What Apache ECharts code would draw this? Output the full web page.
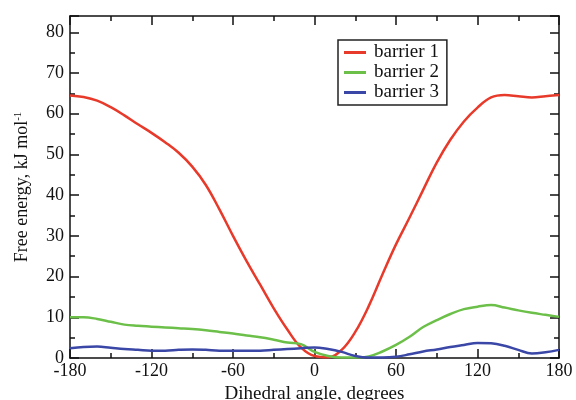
<!DOCTYPE html>
<html>
<head>
<meta charset="utf-8">
<script src="https://cdn.jsdelivr.net/npm/echarts@6/dist/echarts.min.js"></script>
<style>
  html, body { margin: 0; padding: 0; background: #fff; }
  #main { width: 576px; height: 400px; }
</style>
</head>
<body>
<div id="main"></div>
<script>
// angles (degrees), shared by all three curves
let angles = [-180, -170, -160, -150, -140, -130, -120, -110, -100, -90, -80, -70, -60, -50, -40, -30, -20, -10,
    0, 10, 20, 30, 40, 50, 60, 70, 80, 90, 100, 110, 120, 130, 140, 150, 160, 170, 180]

let barrier1 = [64.5, 64.1, 63.2, 61.6, 59.6, 57.4, 55.3, 53.0, 50.4, 47.0, 42.5, 36.5, 30.0, 23.8, 18.0, 12.2, 7.0, 2.6,
    0.5, 0.2, 2.0, 6.4, 12.8, 20.5, 27.9, 34.5, 41.3, 48.0, 53.6, 58.1, 61.5, 64.0, 64.6, 64.3, 64.0, 64.3, 64.6]

let barrier2 = [10.0, 10.0, 9.6, 8.9, 8.2, 7.9, 7.7, 7.5, 7.3, 7.1, 6.8, 6.4, 6.0, 5.5, 5.1, 4.5, 3.8, 3.4,
    1.5, 0.5, 0.1, 0.1, 0.4, 1.6, 3.2, 5.2, 7.6, 9.3, 10.8, 12.0, 12.6, 13.0, 12.4, 11.7, 11.1, 10.6, 10.1]

let barrier3 = [2.4, 2.7, 2.8, 2.5, 2.2, 2.0, 1.8, 1.8, 2.0, 2.1, 2.0, 1.8, 1.8, 1.8, 1.8, 2.0, 2.2, 2.4,
    2.6, 2.2, 1.5, 0.5, 0.1, 0.1, 0.3, 0.9, 1.6, 2.1, 2.7, 3.2, 3.7, 3.6, 3.0, 2.0, 1.1, 1.4, 2.0]

let seriesNames = ['barrier 1', 'barrier 2', 'barrier 3']
let seriesColors = ['#e83a2a', '#6cc04a', '#3a47a6']

let myChart = echarts.init(document.getElementById('main'))

function pairs(ys) {
    let out = []
    for (let i in angles) {
        out.push([angles[i], ys[i]])
    }
    return out
}

let font = 'Liberation Serif'
let axisLine = { show: true, onZero: false, lineStyle: { color: '#111', width: 1.5 } }
let majorTick = { inside: true, length: 9, lineStyle: { color: '#111', width: 1.5 } }
let minorTick = { show: true, splitNumber: 2, length: 5, lineStyle: { color: '#111', width: 1.5 } }

let option = {
    animation: false,
    textStyle: { fontFamily: font },
    grid: { left: 70, right: 17, top: 16, bottom: 42, outerBoundsMode: 'none' },
    legend: {
        orient: 'vertical',
        left: 338,
        top: 40,
        data: seriesNames,
        icon: 'rect',
        itemWidth: 22,
        itemHeight: 3,
        itemGap: 1,
        padding: [3, 8, 3, 6],
        borderColor: '#222',
        borderWidth: 1.5,
        backgroundColor: '#fff',
        textStyle: { fontFamily: font, fontSize: 19, color: '#111', padding: [0, 0, 0, 3] }
    },
    xAxis: [
        {
            type: 'value',
            min: -180,
            max: 180,
            interval: 60,
            name: 'Dihedral angle, degrees',
            nameLocation: 'middle',
            nameGap: 25,
            nameTextStyle: { fontFamily: font, fontSize: 19, color: '#111' },
            axisLine: axisLine,
            axisTick: majorTick,
            minorTick: minorTick,
            axisLabel: { fontFamily: font, fontSize: 18, color: '#111', margin: 4 },
            splitLine: { show: false }
        },
        {
            type: 'value',
            position: 'top',
            min: -180,
            max: 180,
            interval: 60,
            axisLine: axisLine,
            axisTick: majorTick,
            minorTick: minorTick,
            axisLabel: { show: false },
            splitLine: { show: false }
        }
    ],
    yAxis: [
        {
            type: 'value',
            min: 0,
            max: 84,
            interval: 10,
            name: 'Free energy, kJ mol{sup|-1}',
            nameLocation: 'middle',
            nameGap: 38,
            nameTextStyle: {
                fontFamily: font, fontSize: 18, color: '#111',
                rich: { sup: { fontFamily: font, fontSize: 11, color: '#111', verticalAlign: 'top', padding: [0, 0, 8, 0] } }
            },
            axisLine: axisLine,
            axisTick: majorTick,
            minorTick: minorTick,
            axisLabel: {
                fontFamily: font, fontSize: 18, color: '#111', margin: 6,
                formatter: function (v) { return v % 10 === 0 ? String(v) : '' }
            },
            splitLine: { show: false }
        },
        {
            type: 'value',
            position: 'right',
            min: 0,
            max: 84,
            interval: 10,
            axisLine: axisLine,
            axisTick: majorTick,
            minorTick: minorTick,
            axisLabel: { show: false },
            splitLine: { show: false }
        }
    ],
    series: [
        {
            name: seriesNames[0],
            type: 'line',
            smooth: 0.4,
            showSymbol: false,
            color: seriesColors[0],
            lineStyle: { width: 2.5 },
            data: pairs(barrier1)
        },
        {
            name: seriesNames[1],
            type: 'line',
            smooth: 0.4,
            showSymbol: false,
            color: seriesColors[1],
            lineStyle: { width: 2.5 },
            data: pairs(barrier2)
        },
        {
            name: seriesNames[2],
            type: 'line',
            smooth: 0.4,
            showSymbol: false,
            color: seriesColors[2],
            lineStyle: { width: 2.5 },
            data: pairs(barrier3)
        }
    ]
}

myChart.setOption(option)
</script>
</body>
</html>
